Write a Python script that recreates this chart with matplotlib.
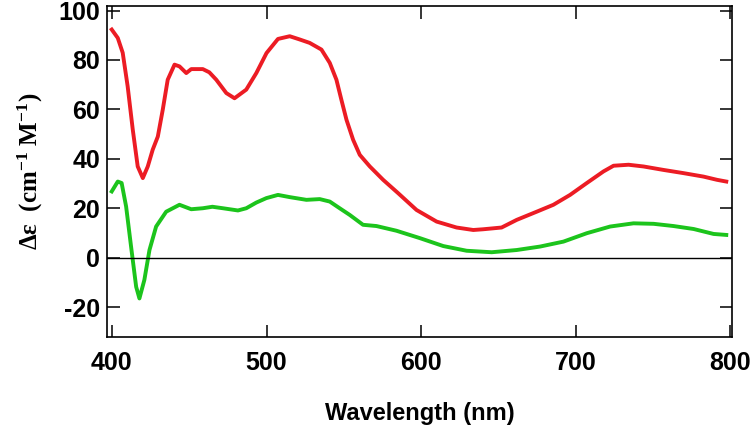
import matplotlib
matplotlib.use('Agg')
import matplotlib.pyplot as plt

# red trace (wavelength nm, delta epsilon)
red_nm = [399.9, 403.8, 407, 410.2, 413.5, 416.7, 420, 423.2, 426.4, 429.7, 432.9, 436.1,
          440.5, 443.7, 448.1, 451.3, 458.8, 463, 467.5, 474, 479.3, 486.9, 493.4, 500,
          507.4, 515, 521.4, 527.9, 535.5, 540.9, 545.2, 548.4, 551.7, 556, 560.3, 566.8,
          575.4, 585.1, 597, 610, 622.9, 633.7, 640.2, 652, 661.8, 674.7, 685.5, 696.3,
          707.1, 717.9, 724.4, 734.1, 743.8, 756.7, 769.7, 782.6, 791.3, 797.3]
red_de = [92.3, 88.9, 82.9, 69.3, 51.8, 36.9, 32.2, 36.9, 43.7, 49, 59.9, 72,
          78.1, 77.4, 74.7, 76.3, 76.3, 75, 72, 66.6, 64.5, 68, 74.7, 82.8,
          88.5, 89.6, 88.3, 86.9, 84.2, 78.8, 72, 63.9, 55.8, 47.7, 41.6, 36.9,
          31.5, 26.1, 19.3, 14.6, 12.2, 11.2, 11.5, 12.2, 15.3, 18.6, 21.4, 25.4,
          30.2, 34.9, 37.2, 37.6, 36.9, 35.5, 34.2, 32.8, 31.5, 30.8]

# green trace
green_nm = [399.9, 403.8, 406.3, 409.2, 412.4, 415.7, 417.8, 421, 424.3, 428.6, 435.1,
            443.7, 451.3, 458.8, 465, 471.8, 481.5, 486.9, 493.4, 499.9, 507.4, 515,
            525.8, 534.4, 540.9, 547.3, 553.8, 562.4, 571.1, 584, 599.2, 614.3, 629.4,
            645.6, 661.8, 676.9, 692, 707.1, 722.2, 737.3, 750.3, 763.2, 776.2, 789.1,
            797.3]
green_de = [26.8, 30.8, 30.2, 20.7, 4.5, -11.8, -16.5, -9, 3.1, 12.6, 18.6,
            21.4, 19.6, 20, 20.6, 20, 19.1, 20, 22.3, 24.1, 25.4, 24.5,
            23.4, 23.7, 22.7, 20, 17.3, 13.3, 12.8, 10.9, 7.9, 4.7, 2.8,
            2.2, 3.1, 4.5, 6.5, 9.9, 12.6, 13.9, 13.7, 12.8, 11.6, 9.6,
            9.2]

plt.rcParams['axes.unicode_minus'] = False
plt.rcParams['mathtext.fontset'] = 'custom'
plt.rcParams['mathtext.rm'] = 'Liberation Serif:bold'
plt.rcParams['mathtext.it'] = 'Liberation Serif:bold'
plt.rcParams['mathtext.bf'] = 'Liberation Serif:bold'

fig = plt.figure(figsize=(7.5, 4.29), dpi=100)
ax = fig.add_axes([0.143, 0.215, 0.833, 0.772])

ax.plot(red_nm, red_de, color='#ec1c24', lw=2.8, solid_joinstyle='round')
ax.plot(green_nm, green_de, color='#1cc41c', lw=2.8, solid_joinstyle='round')
ax.axhline(0, color='black', lw=1.0)

ax.set_xlim(397, 801)
ax.set_ylim(-32, 102)
ax.set_xticks([400, 500, 600, 700, 800])
ax.set_yticks([-20, 0, 20, 40, 60, 80, 100])

for s in ax.spines.values():
    s.set_linewidth(1.2)
ax.tick_params(direction='in', length=9, width=1.1, top=True, right=True,
               labelsize=18)
ax.tick_params(axis='x', pad=10)
ax.tick_params(axis='y', pad=5)
for lab in ax.get_xticklabels() + ax.get_yticklabels():
    lab.set_fontfamily('Liberation Sans')
    lab.set_fontweight('bold')

ax.set_xlabel('Wavelength (nm)', fontsize=17, fontweight='bold',
              family='Liberation Sans', labelpad=20)
ax.set_ylabel(r'Δε  (cm$^{\mathrm{-1}}$ M$^{\mathrm{-1}}$)', fontsize=18,
              fontweight='bold', family='Liberation Serif', labelpad=10)

plt.savefig('out.png')
